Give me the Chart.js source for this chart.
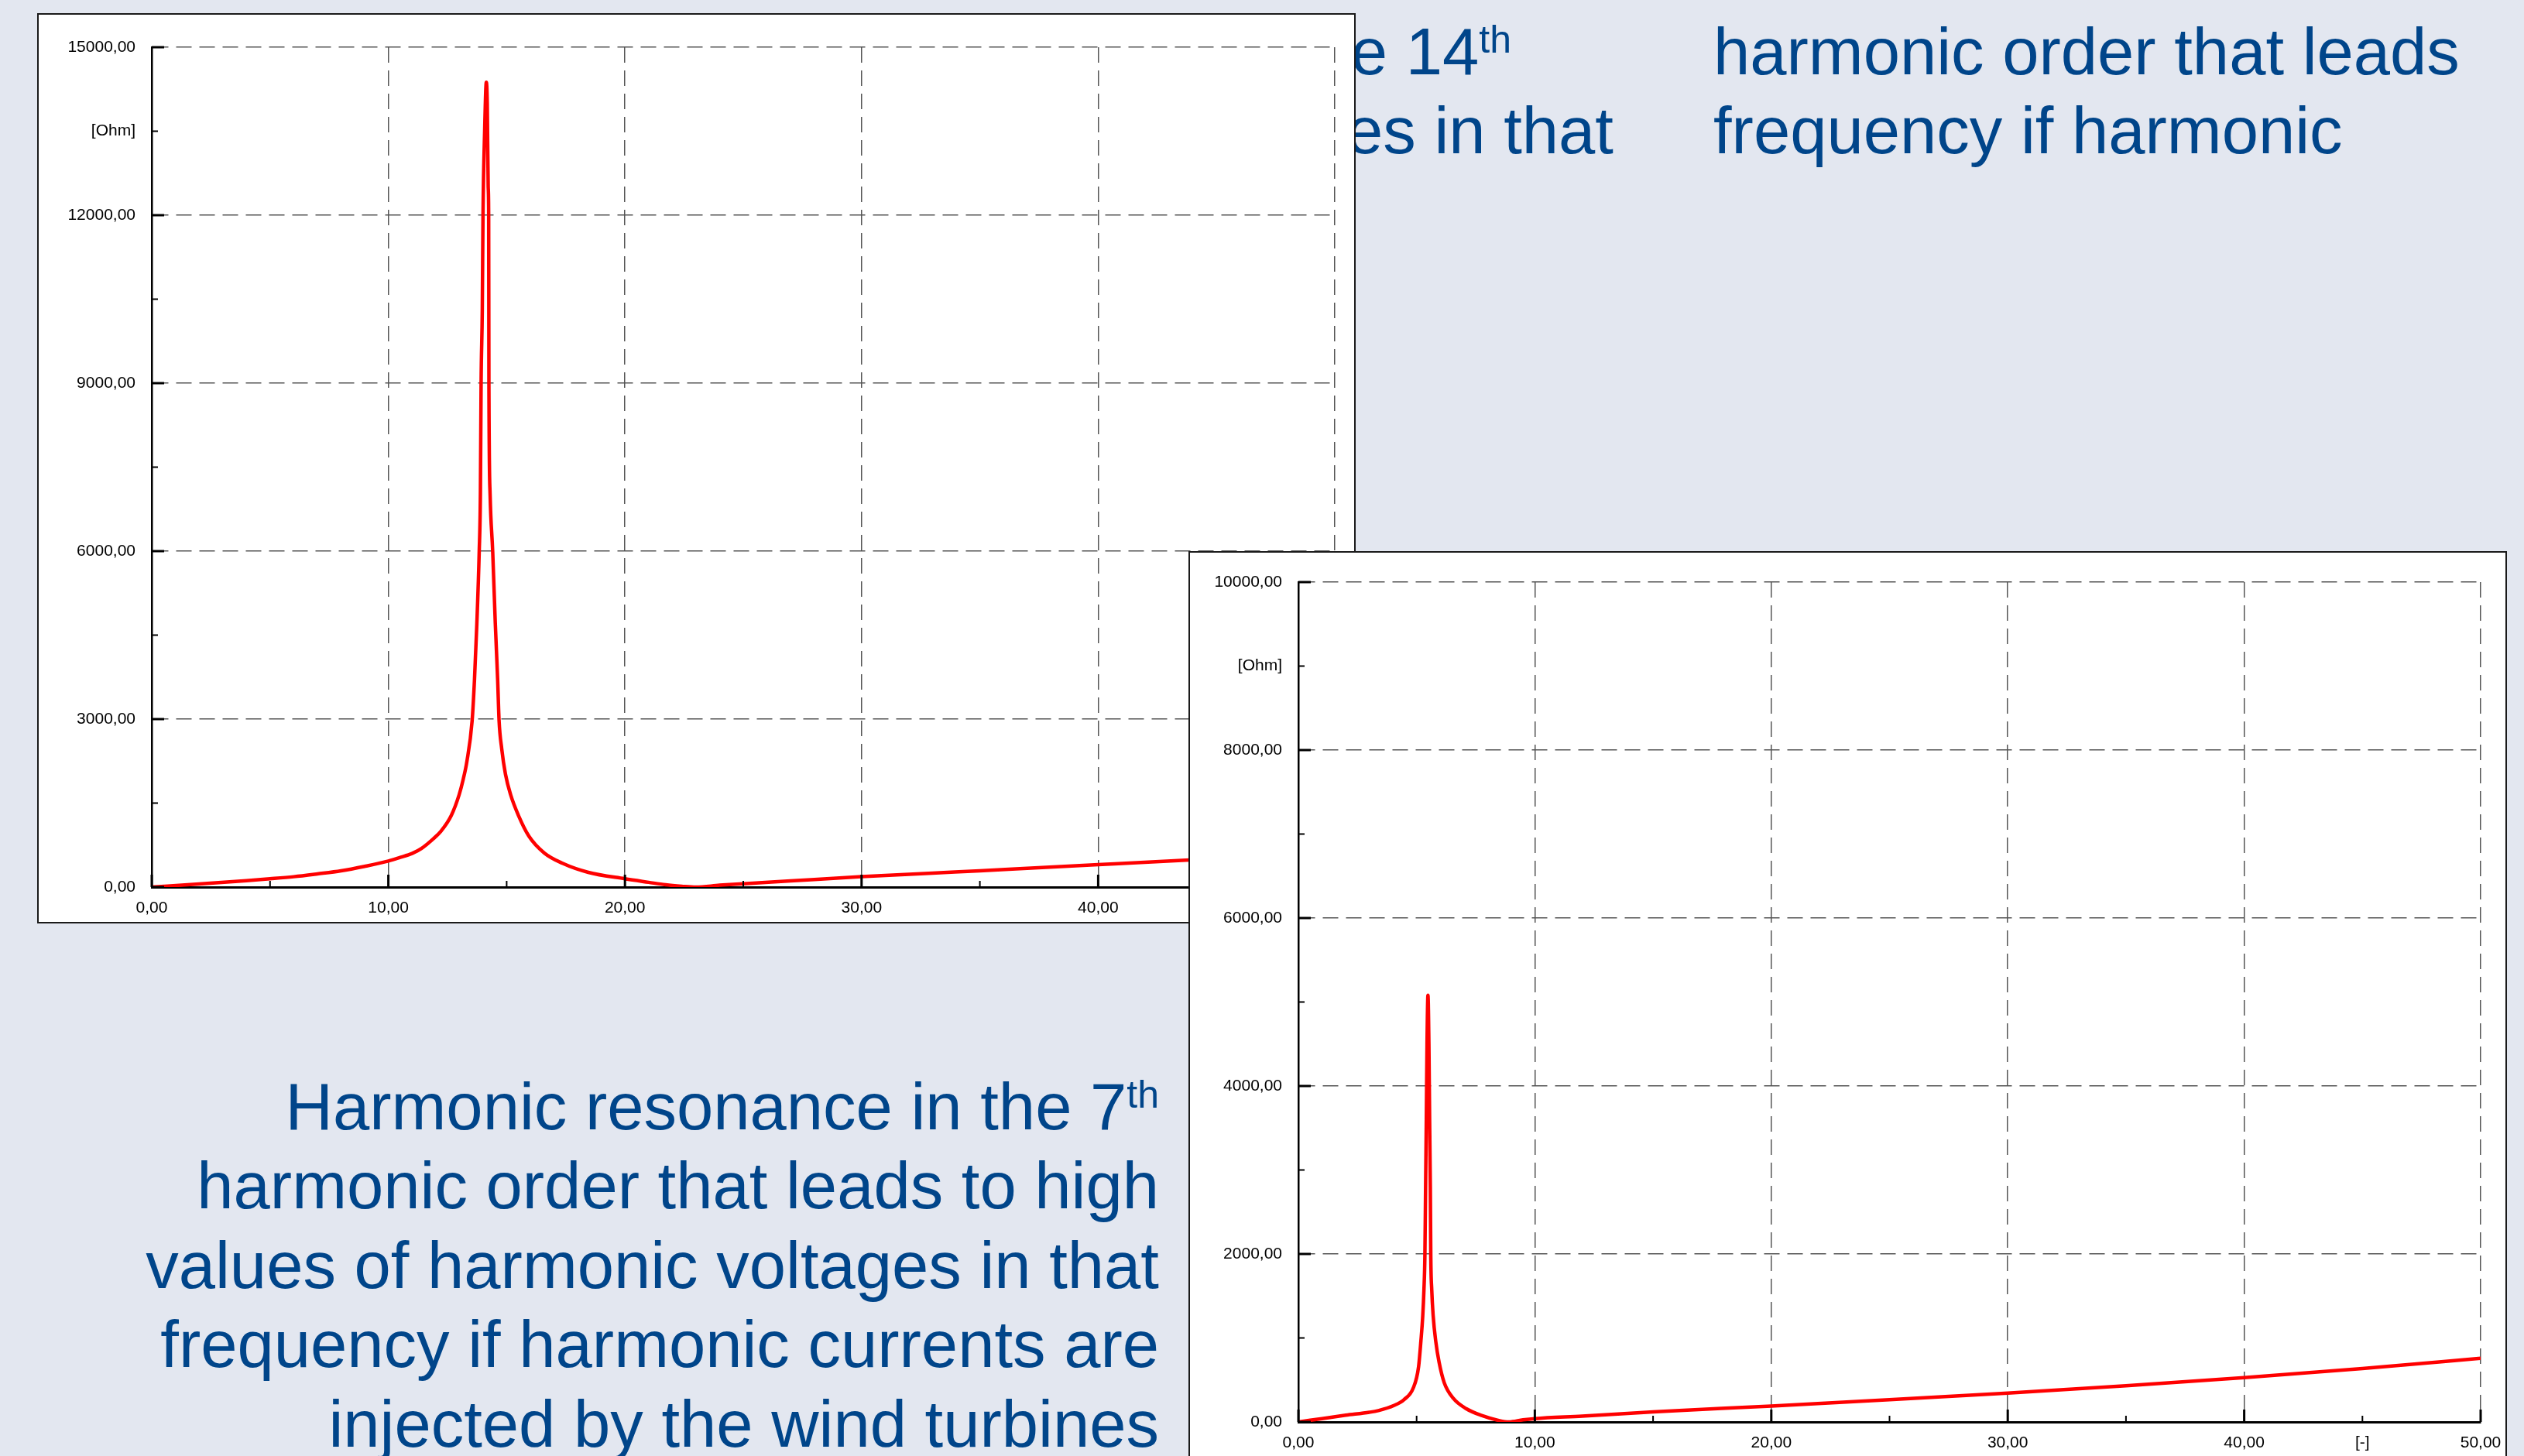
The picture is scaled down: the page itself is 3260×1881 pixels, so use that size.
<!DOCTYPE html>
<html>
<head>
<meta charset="utf-8">
<script src="https://cdn.jsdelivr.net/npm/chart.js@4.4.1/dist/chart.umd.min.js"></script>
<style>
html,body{margin:0;padding:0;}
body{width:3260px;height:1881px;background:#e3e7f0;position:relative;overflow:hidden;font-family:"Liberation Sans",Arial,sans-serif;}
.txt{position:absolute;color:#00458a;font-size:85px;line-height:102.4px;white-space:nowrap;}
.sup{font-size:50px;line-height:0;position:relative;top:-28px;}
.panel{position:absolute;width:1703px;height:1176px;box-sizing:border-box;border:2px solid #1a1a1a;background:#fff;}
.panel canvas{position:absolute;left:0;top:0;}
</style>
</head>
<body>
<div class="txt" style="right:1308px;top:16px;text-align:right;">e 14<span class="sup">th</span></div>
<div class="txt" style="right:1176px;top:118px;text-align:right;">es in that</div>
<div class="txt" style="left:2213px;top:16px;">harmonic order that leads<br>frequency if harmonic</div>
<div class="txt" style="right:1763px;top:1379px;text-align:right;">Harmonic resonance in the 7<span class="sup">th</span><br>harmonic order that leads to high<br>values of harmonic voltages in that<br>frequency if harmonic currents are<br>injected by the wind turbines</div>

<div class="panel" style="left:48px;top:17px;z-index:2;"><canvas id="c14" width="1699" height="1172"></canvas></div>
<div class="panel" style="left:1535px;top:712px;z-index:3;"><canvas id="c7" width="1699" height="1172"></canvas></div>

<script>
// Harmonic order (x) and impedance in Ohm (y) - resonance near the 14th harmonic
const h14X = [0, 2, 4, 5, 6, 7, 8, 9, 10, 10.5, 11, 11.4, 11.9, 12.23, 12.66, 12.99, 13.15, 13.32, 13.54, 13.64, 13.74, 13.84, 13.89, 13.92, 13.97, 14.0, 14.07, 14.14, 14.18, 14.22, 14.24, 14.25, 14.30, 14.41, 14.52, 14.62, 14.68, 14.79, 14.95, 15.17, 15.5, 15.94, 16.59, 17.36, 18.45, 20.0, 21.0, 21.72, 22.4, 23.0, 24.0, 25.0, 27.0, 30.0, 33.0, 35.0, 37.0, 40.0, 43.7, 45.0, 50.0];
const h14Y = [0, 55, 115, 148, 185, 235, 290, 370, 465, 530, 600, 690, 863, 1001, 1278, 1646, 1900, 2246, 2969, 3700, 4700, 5993, 7016, 8994, 10313, 12000, 13500, 14374, 14000, 12500, 12000, 8994, 7016, 5993, 4708, 3700, 2969, 2476, 2015, 1646, 1278, 909, 609, 425, 263, 148, 85, 41, 15, 0, 33, 60, 110, 185, 250, 290, 335, 401, 480, 505, 580];

// Resonance near the 5.5th harmonic (second network case)
const h7X = [0, 1, 2, 3, 3.38, 4.04, 4.47, 4.86, 5.08, 5.18, 5.26, 5.31, 5.35, 5.38, 5.41, 5.44, 5.48, 5.52, 5.55, 5.58, 5.60, 5.64, 5.70, 5.81, 5.95, 6.17, 6.55, 7.09, 7.75, 8.51, 8.9, 9.5, 10, 12, 15, 20, 25, 30, 35, 40, 45, 50];
const h7Y = [0, 40, 80, 115, 135, 196, 267, 405, 651, 958, 1265, 1572, 1978, 2800, 3600, 4500, 5080, 4500, 3600, 2800, 1978, 1572, 1265, 958, 712, 466, 282, 159, 77, 15, 0, 25, 40, 70, 120, 190, 265, 344, 430, 528, 635, 758];

// Axis settings / tick labels
const xMax = 50, xMajor = 10, xMinor = 5;
const xUnitLabel = '[-]', xUnitAt = 45;
const yUnitLabel = '[Ohm]';
const y14Max = 15000, y14Major = 3000, y14UnitAt = 13500;
const y7Max = 10000, y7Major = 2000, y7UnitAt = 9000;

function fmt(v){ return v.toFixed(2).replace('.', ','); }
function isMult(v, m){ return Math.abs(v / m - Math.round(v / m)) < 1e-9; }

const inwardTicks = {
  id: 'inwardTicks',
  afterDraw(chart, args, opts) {
    const {ctx, chartArea: a, scales: {x, y}} = chart;
    ctx.save();
    ctx.strokeStyle = '#000';
    x.ticks.forEach(t => {
      const px = x.getPixelForValue(t.value);
      const major = isMult(t.value, opts.xMajor);
      ctx.lineWidth = major ? 3 : 2;
      ctx.beginPath(); ctx.moveTo(px, a.bottom); ctx.lineTo(px, a.bottom - (major ? 16 : 8)); ctx.stroke();
    });
    y.ticks.forEach(t => {
      const py = y.getPixelForValue(t.value);
      const major = isMult(t.value, opts.yMajor);
      ctx.lineWidth = major ? 3 : 2;
      ctx.beginPath(); ctx.moveTo(a.left, py); ctx.lineTo(a.left + (major ? 16 : 8), py); ctx.stroke();
    });
    ctx.restore();
  }
};

function build(id, xs, ys, yMax, yMajor, yUnitAt, area) {
  const canvas = document.getElementById(id);
  const W = canvas.width, H = canvas.height;
  const pts = xs.map((x, i) => ({x: x, y: ys[i]}));
  const font = {family: 'Liberation Sans', size: 21};
  return new Chart(canvas, {
    type: 'line',
    data: {datasets: [{data: pts, borderColor: '#ff0000', borderWidth: 4.5, pointRadius: 0, cubicInterpolationMode: 'monotone', fill: false}]},
    options: {
      responsive: false, animation: false, devicePixelRatio: 1,
      layout: {padding: {left: 0, top: area.top, right: W - area.right, bottom: 0}},
      plugins: {legend: {display: false}, tooltip: {enabled: false}, inwardTicks: {xMajor: xMajor, yMajor: yMajor}},
      scales: {
        x: {
          type: 'linear', min: 0, max: xMax,
          ticks: {stepSize: xMinor, autoSkip: false, maxRotation: 0, minRotation: 0, padding: 15, color: '#000', font: font,
            callback: v => isMult(v, xMajor) ? fmt(v) : (v === xUnitAt ? xUnitLabel : '')},
          grid: {drawTicks: false, color: c => (c.tick && isMult(c.tick.value, xMajor)) ? '#555' : 'rgba(0,0,0,0)', lineWidth: 1.5},
          border: {display: true, color: '#000', width: 3, dash: [20, 10]},
          afterFit: s => { s.height = H - area.bottom; s.paddingLeft = 0; s.paddingRight = 0; }
        },
        y: {
          type: 'linear', min: 0, max: yMax,
          ticks: {stepSize: yMajor / 2, autoSkip: false, padding: 21, color: '#000', font: font,
            callback: v => isMult(v, yMajor) ? fmt(v) : (v === yUnitAt ? yUnitLabel : '')},
          grid: {drawTicks: false, color: c => (c.tick && isMult(c.tick.value, yMajor)) ? '#555' : 'rgba(0,0,0,0)', lineWidth: 1.5},
          border: {display: true, color: '#000', width: 2.5, dash: [20, 10]},
          afterFit: s => { s.width = area.left; s.paddingTop = 0; s.paddingBottom = 0; }
        }
      }
    },
    plugins: [inwardTicks]
  });
}

build('c14', h14X, h14Y, y14Max, y14Major, y14UnitAt, {left: 146, top: 42, right: 1674, bottom: 1127});
build('c7', h7X, h7Y, y7Max, y7Major, y7UnitAt, {left: 140, top: 38, right: 1667, bottom: 1123});
</script>
</body>
</html>
